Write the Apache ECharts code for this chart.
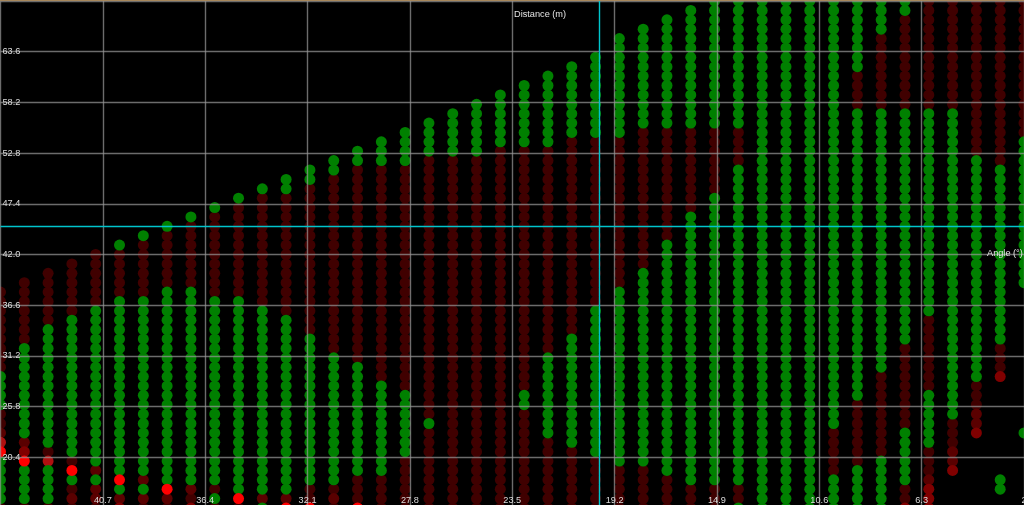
<!DOCTYPE html>
<html><head><meta charset="utf-8">
<style>html,body{margin:0;padding:0;background:#000;overflow:hidden}#c{width:1024px;height:505px}</style>
<script src="https://cdn.jsdelivr.net/npm/echarts@6/dist/echarts.min.js"></script></head>
<body><div id="c"></div>
<script>
// Each column: distance (m) -> runs [highAngle, lowAngle, status], read top to bottom from the picture
const columns = [
 [45,[[38,30,'d'],[29,26,'g'],[25,24,'d'],[23,23,'e'],[22,22,'h'],[21,21,'r'],[20,16,'g'],[15,15,'d']]],
 [44,[[39,33,'d'],[32,23,'g'],[22,22,'e'],[21,21,'m'],[20,20,'r'],[19,16,'g'],[15,15,'d']]],
 [43,[[40,35,'d'],[34,22,'g'],[21,21,'d'],[20,20,'h'],[19,16,'g'],[15,15,'d']]],
 [42,[[41,36,'d'],[35,21,'g'],[20,20,'d'],[19,19,'r'],[18,18,'g'],[17,17,'d'],[16,16,'e'],[15,15,'d']]],
 [41,[[42,37,'d'],[36,20,'g'],[19,19,'e'],[18,18,'g'],[17,16,'e'],[15,15,'d']]],
 [40,[[43,43,'g'],[42,38,'d'],[37,19,'g'],[18,18,'r'],[17,17,'g'],[16,16,'e'],[15,15,'m']]],
 [39,[[44,44,'g'],[43,38,'d'],[37,19,'g'],[18,18,'e'],[17,17,'g'],[16,16,'e'],[15,15,'d']]],
 [38,[[45,45,'g'],[44,39,'d'],[38,18,'g'],[17,17,'r'],[16,16,'e'],[15,15,'d']]],
 [37,[[46,46,'g'],[45,39,'d'],[38,18,'g'],[17,17,'e'],[16,16,'d'],[15,15,'m']]],
 [36,[[47,47,'g'],[46,38,'d'],[37,18,'g'],[17,17,'d'],[16,16,'g'],[15,15,'d']]],
 [35,[[48,48,'g'],[47,38,'d'],[37,17,'g'],[16,16,'r'],[15,15,'d']]],
 [34,[[49,49,'g'],[48,37,'d'],[36,17,'g'],[16,16,'e'],[15,15,'g']]],
 [33,[[50,49,'g'],[48,36,'d'],[35,17,'g'],[16,16,'e'],[15,15,'r']]],
 [32,[[51,50,'g'],[49,34,'d'],[33,18,'g'],[17,16,'d'],[15,15,'r']]],
 [31,[[52,51,'g'],[50,32,'d'],[31,18,'g'],[17,17,'d'],[16,16,'e'],[15,15,'d']]],
 [30,[[53,52,'g'],[51,31,'d'],[30,19,'g'],[18,16,'d'],[15,15,'r']]],
 [29,[[54,52,'g'],[51,29,'d'],[28,19,'g'],[18,15,'d']]],
 [28,[[55,52,'g'],[51,28,'d'],[27,21,'g'],[20,15,'d']]],
 [27,[[56,53,'g'],[52,25,'d'],[24,24,'g'],[23,15,'d']]],
 [26,[[57,53,'g'],[52,15,'d']]],
 [25,[[58,53,'g'],[52,15,'d']]],
 [24,[[59,54,'g'],[53,15,'d']]],
 [23,[[60,54,'g'],[53,28,'d'],[27,26,'g'],[25,15,'d']]],
 [22,[[61,54,'g'],[53,32,'d'],[31,23,'g'],[22,15,'d']]],
 [21,[[62,55,'g'],[54,34,'d'],[33,22,'g'],[21,15,'d']]],
 [20,[[63,55,'g'],[54,37,'d'],[36,21,'g'],[20,15,'d']]],
 [19,[[65,55,'g'],[54,39,'d'],[38,20,'g'],[19,15,'d']]],
 [18,[[66,56,'g'],[55,41,'d'],[40,20,'g'],[19,15,'d']]],
 [17,[[67,56,'g'],[55,44,'d'],[43,19,'g'],[18,15,'d']]],
 [16,[[68,56,'g'],[55,47,'d'],[46,18,'g'],[17,15,'d']]],
 [15,[[69,56,'g'],[55,49,'d'],[48,18,'g'],[17,15,'d']]],
 [14,[[69,56,'g'],[55,52,'d'],[51,18,'g'],[17,16,'d'],[15,15,'g']]],
 [13,[[69,15,'g']]],
 [12,[[69,15,'g']]],
 [11,[[69,15,'g']]],
 [10,[[69,24,'g'],[23,19,'d'],[18,15,'g']]],
 [9,[[69,62,'g'],[61,58,'d'],[57,27,'g'],[26,20,'d'],[19,15,'g']]],
 [8,[[69,66,'g'],[65,58,'d'],[57,30,'g'],[29,21,'d'],[20,15,'g']]],
 [7,[[69,68,'g'],[67,58,'d'],[57,33,'g'],[32,24,'d'],[23,18,'g'],[17,16,'d'],[15,15,'m']]],
 [6,[[69,58,'d'],[57,36,'g'],[35,28,'d'],[27,22,'g'],[21,19,'d'],[18,18,'e'],[17,15,'m']]],
 [5,[[69,58,'d'],[57,25,'g'],[24,22,'d'],[21,20,'e'],[19,19,'m']]],
 [4,[[69,53,'d'],[52,29,'g'],[28,26,'d'],[25,24,'e'],[23,23,'m']]],
 [3,[[69,52,'d'],[51,33,'g'],[32,30,'d'],[29,29,'m'],[18,17,'g']]],
 [2,[[69,55,'d'],[54,39,'g'],[23,23,'g']]]
];
const xRange = [2, 45], xStep = 4.3;
const yRange = [15, 69], yStep = 5.4;
const cursorDistance = 19.86, cursorAngle = 45.03;
const statusColors = {d:'#400000', e:'#5a0000', m:'#800000', h:'#b01010', g:'#008000', r:'#ff0000'};
const drawOrder = ['d','e','m','h','g','r'];
const statusNames = {d:'Low dark',e:'Low mid',m:'Low bright',h:'Warn',g:'OK',r:'Alert'};

const buckets = {}; drawOrder.forEach(k => buckets[k] = []);
columns.forEach(([dist, runs]) => runs.forEach(([hi, lo, k]) => {
  for (let a = hi; a >= lo; a--) buckets[k].push([dist, a]);
}));

const labelStyle = {color:'#dcdcdc', fontSize:9.2, fontFamily:'"Liberation Sans", Arial, sans-serif'};
const gridLine = {show:true, lineStyle:{color:'rgba(150,150,150,0.72)', width:1.4, type:'solid'}};
const chart = echarts.init(document.getElementById('c'), null, {renderer:'canvas'});
chart.setOption({
  animation:false, backgroundColor:'#000',
  grid:{left:0.5, right:0, top:1, bottom:-3, containLabel:false, outerBoundsMode:'none'},
  xAxis:{type:'value', inverse:true, min:xRange[0], max:xRange[1], interval:xStep, z:3,
    axisLine:{show:false}, axisTick:{show:false}, splitLine:gridLine,
    axisLabel:{...labelStyle, inside:true, margin:3, showMaxLabel:false, hideOverlap:false, verticalAlign:'bottom'}},
  yAxis:{type:'value', min:yRange[0], max:yRange[1], interval:yStep, z:3,
    axisLine:{show:false}, axisTick:{show:false}, splitLine:gridLine,
    axisLabel:{...labelStyle, inside:true, margin:2, showMaxLabel:false, hideOverlap:false, formatter:v => v.toFixed(1)}},
  series: drawOrder.map(k => ({
    name:statusNames[k], type:'scatter', data:buckets[k], symbol:'circle', symbolSize:11, z:2,
    itemStyle:{color:statusColors[k], opacity:1}, silent:true, clip:true
  })).concat([{
    name:'Cursor', type:'scatter', data:[], z:4, silent:true,
    markLine:{silent:true, symbol:'none', animation:false, label:{show:false},
      lineStyle:{color:'#00c4cc', width:1.4, type:'solid'},
      data:[{xAxis:cursorDistance},{yAxis:cursorAngle}]}
  }]),
  graphic:[
    {type:'rect', z:10, shape:{x:0,y:0,width:1024,height:1}, style:{fill:'#a8885c'}},
    {type:'text', z:10, x:514, y:10, style:{text:'Distance (m)', fill:'#e4e4e4', font:'9.2px "Liberation Sans", Arial, sans-serif'}},
    {type:'text', z:10, x:987, y:249, style:{text:'Angle (°)', fill:'#e4e4e4', font:'9.2px "Liberation Sans", Arial, sans-serif'}}
  ]
});
</script></body></html>
